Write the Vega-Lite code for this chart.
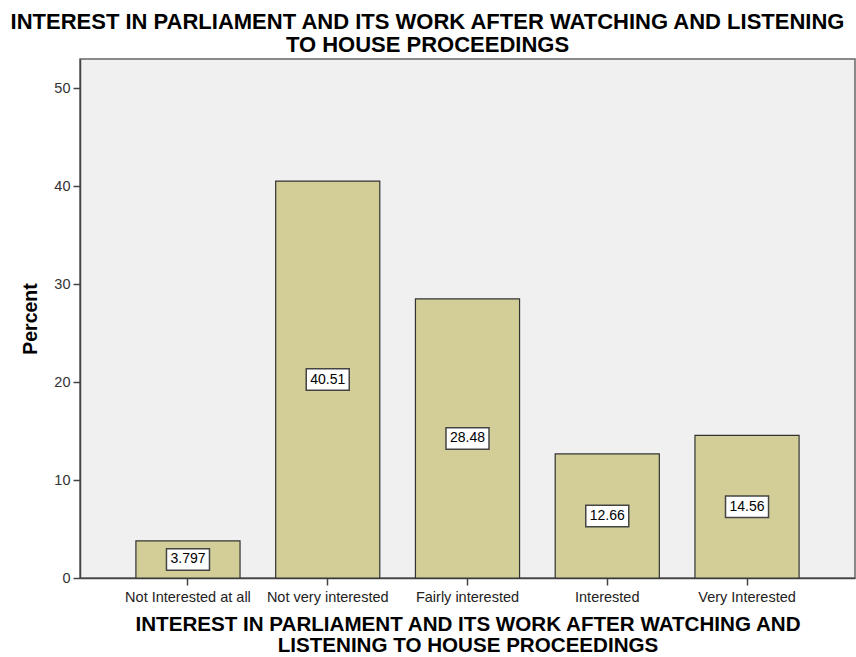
{
  "$schema": "https://vega.github.io/schema/vega-lite/v6.json",
  "width": 775,
  "height": 519,
  "autosize": {"type": "none"},
  "padding": {"left": 80, "top": 59, "right": 1, "bottom": 79},
  "background": "white",
  "title": {
    "text": ["INTEREST IN PARLIAMENT AND ITS WORK AFTER WATCHING AND LISTENING", "TO HOUSE PROCEEDINGS"],
    "font": "Liberation Sans",
    "fontSize": 22,
    "fontWeight": "bold",
    "color": "#000000",
    "anchor": "middle",
    "dx": -40,
    "offset": 2,
    "lineHeight": 23
  },
  "config": {
    "view": {"fill": "#f0f0f0", "stroke": "#666666", "strokeWidth": 1.5},
    "font": "Liberation Sans"
  },
  "data": {
    "values": [
      {"category": "Not Interested at all", "percent": 3.797},
      {"category": "Not very interested", "percent": 40.51},
      {"category": "Fairly interested", "percent": 28.48},
      {"category": "Interested", "percent": 12.66},
      {"category": "Very Interested", "percent": 14.56}
    ]
  },
  "transform": [{"calculate": "datum.percent / 2", "as": "mid"}],
  "encoding": {
    "x": {
      "field": "category",
      "type": "nominal",
      "sort": null,
      "scale": {"paddingInner": 0.255, "paddingOuter": 0.4},
      "axis": {
        "title": ["INTEREST IN PARLIAMENT AND ITS WORK AFTER WATCHING AND", "LISTENING TO HOUSE PROCEEDINGS"],
        "titleFont": "Liberation Sans",
        "titleFontSize": 20.6,
        "titleFontWeight": "bold",
        "titleColor": "#000000",
        "titleLineHeight": 21,
        "titlePadding": 11,
        "labelAngle": 0,
        "labelFontSize": 14.5,
        "labelColor": "#222222",
        "labelFont": "Liberation Sans",
        "labelPadding": 5,
        "tickColor": "#444444",
        "tickSize": 7,
        "tickWidth": 1.5,
        "domainColor": "#444444",
        "domainWidth": 1.5
      }
    }
  },
  "layer": [
    {
      "mark": {"type": "bar", "fill": "#d3ce97", "stroke": "#333333", "strokeWidth": 1.2},
      "encoding": {
        "y": {
          "field": "percent",
          "type": "quantitative",
          "scale": {"domain": [0, 52.97], "nice": false},
          "axis": {
            "title": "Percent",
            "titleFont": "Liberation Sans",
            "titleFontSize": 19.5,
            "titleFontWeight": "bold",
            "titleColor": "#000000",
            "titlePadding": 13,
            "values": [0, 10, 20, 30, 40, 50],
            "grid": false,
            "labelFontSize": 14.5,
            "labelColor": "#333333",
            "labelPadding": 3,
            "tickColor": "#444444",
            "tickSize": 7,
            "tickWidth": 1.5,
            "domainColor": "#444444",
            "domainWidth": 1.5
          }
        }
      }
    },
    {
      "mark": {
        "type": "point",
        "shape": "M-1,-0.5L1,-0.5L1,0.5L-1,0.5Z",
        "size": 1849,
        "filled": true,
        "fill": "white",
        "stroke": "#444444",
        "strokeWidth": 1.5,
        "opacity": 1
      },
      "encoding": {
        "y": {"field": "mid", "type": "quantitative"}
      }
    },
    {
      "mark": {"type": "text", "fontSize": 14, "color": "#000000", "font": "Liberation Sans", "baseline": "middle"},
      "encoding": {
        "y": {"field": "mid", "type": "quantitative"},
        "text": {"field": "percent", "type": "quantitative", "format": ".4r"}
      }
    }
  ]
}
